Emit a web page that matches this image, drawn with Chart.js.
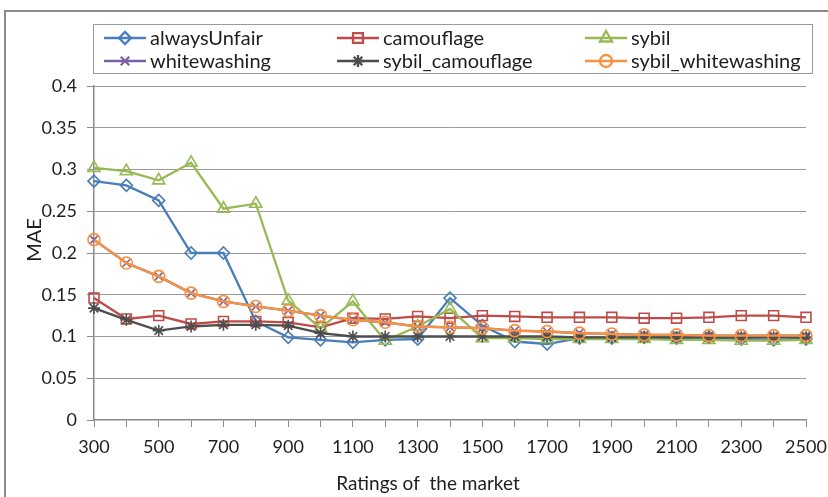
<!DOCTYPE html>
<html>
<head>
<meta charset="utf-8">
<script src="https://cdn.jsdelivr.net/npm/chart.js@4"></script>
<style>
  html, body { margin: 0; padding: 0; background: #ffffff; }
  #wrap { position: relative; width: 828px; height: 497px; }
</style>
</head>
<body>
<div id="wrap"><canvas id="c" width="828" height="497"></canvas></div>
<script>
const categories = ['300','400','500','600','700','800','900','1000','1100','1200','1300','1400','1500','1600','1700','1800','1900','2000','2100','2200','2300','2400','2500'];
const yTicks = [0, 0.05, 0.1, 0.15, 0.2, 0.25, 0.3, 0.35, 0.4];
const seriesNames = ['alwaysUnfair','camouflage','sybil','whitewashing','sybil_camouflage','sybil_whitewashing'];
const alwaysUnfair = [0.286,0.281,0.263,0.200,0.200,0.118,0.099,0.096,0.093,0.096,0.097,0.146,0.113,0.094,0.091,0.098,0.098,0.099,0.098,0.099,0.097,0.096,0.097];
const camouflage = [0.146,0.121,0.125,0.115,0.118,0.118,0.117,0.111,0.122,0.121,0.124,0.122,0.125,0.124,0.123,0.123,0.123,0.122,0.122,0.123,0.125,0.125,0.123];
const sybil = [0.302,0.298,0.287,0.308,0.253,0.259,0.143,0.110,0.142,0.095,0.112,0.133,0.098,0.098,0.097,0.097,0.097,0.097,0.096,0.096,0.095,0.095,0.096];
const whitewashing = [0.216,0.188,0.172,0.152,0.142,0.136,0.131,0.125,0.120,0.117,0.112,0.111,0.110,0.107,0.106,0.104,0.103,0.102,0.102,0.101,0.101,0.101,0.101];
const sybil_camouflage = [0.134,0.120,0.107,0.112,0.114,0.114,0.113,0.104,0.100,0.100,0.100,0.100,0.100,0.100,0.100,0.099,0.099,0.099,0.099,0.099,0.099,0.099,0.099];
const sybil_whitewashing = [0.216,0.188,0.172,0.152,0.142,0.136,0.131,0.125,0.120,0.117,0.112,0.111,0.110,0.107,0.106,0.104,0.103,0.102,0.102,0.101,0.101,0.101,0.101];

const seriesData = [alwaysUnfair, camouflage, sybil, whitewashing, sybil_camouflage, sybil_whitewashing];
const colors = ['#4A7EBB','#BE4B48','#98B954','#7D60A0','#4D4D4D','#F69240'];
const markerStyles = ['rectRot','rect','triangle','crossRot','star','circle'];
const markerRadius = [6,7,7,6,6,6];

const FONT = 'Lato, "Open Sans", sans-serif';

const datasets = seriesNames.map((name, i) => ({
  label: name,
  data: seriesData[i],
  borderColor: colors[i],
  backgroundColor: 'rgba(0,0,0,0)',
  borderWidth: 2.3,
  pointStyle: markerStyles[i],
  pointRadius: markerRadius[i],
  pointBorderWidth: 1.6,
  pointBorderColor: colors[i],
  pointBackgroundColor: 'rgba(0,0,0,0)',
  tension: 0,
  order: seriesNames.length - 1 - i
}));

const decorPlugin = {
  id: 'decor',
  beforeDraw(chart) {
    const ctx = chart.ctx;
    ctx.save();
    ctx.fillStyle = '#ffffff';
    ctx.fillRect(0, 0, chart.width, chart.height);
    ctx.strokeStyle = '#8a8a8a';
    ctx.lineWidth = 2;
    ctx.strokeRect(5, 11, 900, 600);
    ctx.restore();
  },
  afterDraw(chart) {
    const ctx = chart.ctx;
    ctx.save();
    // legend box
    ctx.strokeStyle = '#9a9a9a';
    ctx.lineWidth = 1;
    ctx.strokeRect(93.5, 24.5, 719, 49);
    const colLine = [104, 337, 585];
    const rowY = [38, 61];
    ctx.textBaseline = 'middle';
    ctx.textAlign = 'left';
    chart.data.datasets.forEach((ds, i) => {
      const col = i % 3, row = Math.floor(i / 3);
      const x0 = colLine[col], y = rowY[row];
      ctx.strokeStyle = ds.borderColor;
      ctx.lineWidth = 2.3;
      ctx.beginPath();
      ctx.moveTo(x0, y);
      ctx.lineTo(x0 + 42, y);
      ctx.stroke();
      ctx.fillStyle = 'rgba(0,0,0,0)';
      ctx.strokeStyle = ds.borderColor;
      Chart.helpers.drawPoint(ctx, {
        pointStyle: ds.pointStyle,
        radius: ds.pointRadius,
        borderWidth: 1.4,
        rotation: 0
      }, x0 + 21, y);
      ctx.fillStyle = '#1e1e1e';
      ctx.font = '20px ' + FONT;
      ctx.fillText(ds.label, x0 + 46, y + 1);
    });
    // axis titles
    ctx.fillStyle = '#1e1e1e';
    ctx.font = '19px ' + FONT;
    ctx.textAlign = 'center';
    ctx.textBaseline = 'middle';
    ctx.fillText('Ratings of  the market', 428, 484);
    ctx.font = '20px ' + FONT;
    ctx.translate(35, 240);
    ctx.rotate(-Math.PI / 2);
    ctx.fillText('MAE', 0, 0);
    ctx.restore();
  }
};

new Chart(document.getElementById('c'), {
  type: 'line',
  data: { labels: categories, datasets: datasets },
  options: {
    responsive: false,
    animation: false,
    events: [],
    layout: { padding: { left: 0, top: 86, right: 22, bottom: 0 } },
    plugins: { legend: { display: false }, tooltip: { enabled: false } },
    scales: {
      x: {
        type: 'category',
        offset: false,
        grid: { display: true, drawOnChartArea: false, drawTicks: true, tickLength: 7, color: '#8a8a8a', tickColor: '#8a8a8a' },
        border: { display: true, color: '#8a8a8a', width: 1.5 },
        ticks: {
          autoSkip: false, maxRotation: 0, minRotation: 0, padding: 9,
          color: '#1e1e1e', font: { family: FONT, size: 18 },
          callback: function(v, i) { return i % 2 === 0 ? categories[i] : ''; }
        },
        afterFit(scale) { scale.height = 77; scale.paddingLeft = 0; scale.paddingRight = 0; }
      },
      y: {
        min: 0, max: 0.4,
        afterBuildTicks(scale) { scale.ticks = yTicks.map(v => ({ value: v })); },
        grid: {
          color: (c) => c.tick && c.tick.value === 0 ? 'rgba(0,0,0,0)' : '#9a9a9a',
          lineWidth: 1, borderDash: [3, 2], tickBorderDash: [], tickLength: 7, tickColor: '#8a8a8a'
        },
        border: { display: true, color: '#8a8a8a', width: 1.5 },
        ticks: {
          padding: 10, color: '#1e1e1e', font: { family: FONT, size: 18 },
          callback: (v) => String(Number(v.toFixed(2)))
        },
        afterFit(scale) { scale.width = 94; scale.paddingTop = 0; scale.paddingBottom = 0; }
      }
    }
  },
  plugins: [decorPlugin]
});
</script>
</body>
</html>
